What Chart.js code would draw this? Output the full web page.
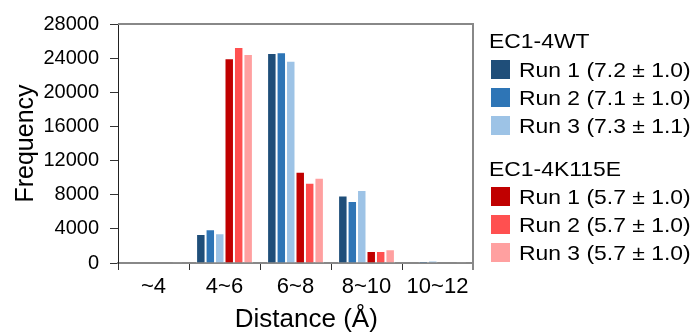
<!DOCTYPE html>
<html>
<head>
<meta charset="utf-8">
<script src="https://cdn.jsdelivr.net/npm/chart.js@4/dist/chart.umd.min.js"></script>
<style>
  html, body { margin: 0; padding: 0; background: #fff; }
  #wrap { position: relative; width: 692px; height: 333px; overflow: hidden; }
  #legend { position: absolute; left: 491px; top: 0; font-family: "Liberation Sans", Arial, sans-serif; color: #000; }
  .grp { position: absolute; left: 0; font-size: 21px; white-space: nowrap; }
  .row { position: absolute; left: 0; height: 19px; white-space: nowrap; }
  .sw { position: absolute; left: 0; top: 0; width: 19px; height: 19px; }
  .lbl { position: absolute; left: 28px; top: -3px; font-size: 21px; line-height: 25px; transform: scaleX(1.09); transform-origin: left; }
</style>
</head>
<body>
<div id="wrap">
  <canvas id="chart" width="692" height="333"></canvas>
  <div id="legend"></div>
</div>
<script>
const bins = ['~4', '4~6', '6~8', '8~10', '10~12'];

const groupNames = ['EC1-4WT', 'EC1-4K115E'];
const wtLabels = ['Run 1 (7.2 \u00b1 1.0)', 'Run 2 (7.1 \u00b1 1.0)', 'Run 3 (7.3 \u00b1 1.1)'];
const kLabels = ['Run 1 (5.7 \u00b1 1.0)', 'Run 2 (5.7 \u00b1 1.0)', 'Run 3 (5.7 \u00b1 1.0)'];

const wtRun1 = [0, 3400, 24600, 7900, 60];
const wtRun2 = [0, 3950, 24700, 7250, 200];
const wtRun3 = [0, 3500, 23700, 8550, 300];
const kRun1 = [60, 24000, 10700, 1400, 60];
const kRun2 = [60, 25300, 9400, 1400, 60];
const kRun3 = [40, 24500, 10000, 1600, 40];

const wtColors = ['#1f4e79', '#2e75b6', '#9dc3e6'];
const kColors = ['#c00000', '#ff5050', '#ffa0a0'];

const yTicks = [0, 4000, 8000, 12000, 16000, 20000, 24000, 28000];

const datasets = [];
[wtRun1, wtRun2, wtRun3].forEach((d, i) => datasets.push({
  label: groupNames[0] + ' ' + wtLabels[i], data: d,
  backgroundColor: wtColors[i], borderColor: '#fff', borderWidth: 1
}));
[kRun1, kRun2, kRun3].forEach((d, i) => datasets.push({
  label: groupNames[1] + ' ' + kLabels[i], data: d,
  backgroundColor: kColors[i], borderColor: '#fff', borderWidth: 1
}));

// grey frame on top and right side
const frame = {
  id: 'frame',
  afterDraw(chart) {
    const a = chart.chartArea, c = chart.ctx;
    c.save();
    c.strokeStyle = '#888';
    c.lineWidth = 2;
    c.beginPath();
    c.moveTo(a.left, a.top);
    c.lineTo(a.right, a.top);
    c.lineTo(a.right, a.bottom + 7);
    c.stroke();
    c.restore();
  }
};

Chart.defaults.font.family = '"Liberation Sans", Arial, sans-serif';
Chart.defaults.color = '#000';

new Chart(document.getElementById('chart'), {
  type: 'bar',
  data: { labels: bins, datasets: datasets },
  options: {
    responsive: false,
    animation: false,
    layout: { padding: { left: 0, right: 219, top: 24, bottom: 0 } },
    datasets: { bar: { categoryPercentage: 0.8, barPercentage: 1 } },
    plugins: { legend: { display: false }, tooltip: { enabled: false } },
    scales: {
      x: {
        offset: true,
        grid: { offset: true, drawOnChartArea: false, tickLength: 7, color: '#333', lineWidth: 1 },
        border: { color: '#888', width: 2 },
        ticks: { font: { size: 22 }, padding: 4, color: '#000' },
        title: { display: true, text: '\u00a0\u00a0\u00a0Distance (\u00c5)', font: { size: 26, lineHeight: 1 }, padding: 0, color: '#000' },
        afterFit(s) { s.height = 70; }
      },
      y: {
        min: 0, max: 28000,
        afterBuildTicks(s) { s.ticks = yTicks.map(v => ({ value: v })); },
        grid: { drawOnChartArea: false, tickLength: 8, color: '#333' },
        border: { color: '#222', width: 1 },
        ticks: { font: { size: 20 }, padding: 11, color: '#000', callback: v => String(v) },
        title: { display: true, text: 'Frequency', font: { size: 25, lineHeight: 1 }, padding: { top: 14, bottom: 0 }, color: '#000' },
        afterFit(s) { s.width = 118; }
      }
    }
  },
  plugins: [frame]
});

// legend built from the same arrays
const legend = document.getElementById('legend');
function addGroup(title, labels, colors, titleTop, rowTop) {
  const t = document.createElement('div');
  t.className = 'grp';
  t.style.top = titleTop + 'px';
  t.style.left = '-2px';
  t.innerHTML = '<span style="display:inline-block;transform:scaleX(1.09);transform-origin:left">' + title + '</span>';
  legend.appendChild(t);
  labels.forEach((l, i) => {
    const r = document.createElement('div');
    r.className = 'row';
    r.style.top = (rowTop + i * 28) + 'px';
    r.innerHTML = '<div class="sw" style="background:' + colors[i] + '"></div><div class="lbl">' + l + '</div>';
    legend.appendChild(r);
  });
}
addGroup(groupNames[0], wtLabels, wtColors, 29, 60);
addGroup(groupNames[1], kLabels, kColors, 157, 187);
</script>
</body>
</html>
